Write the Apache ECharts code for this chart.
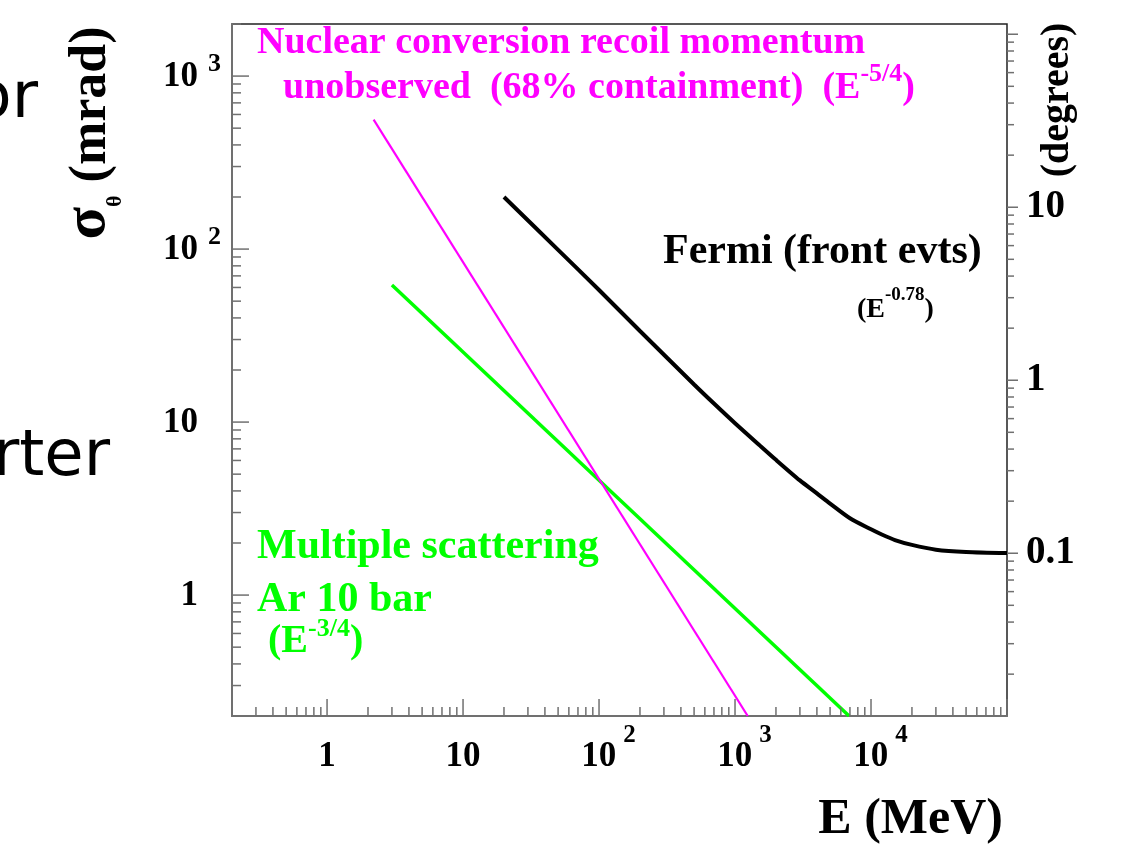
<!DOCTYPE html>
<html><head><meta charset="utf-8">
<script src="https://cdn.jsdelivr.net/npm/echarts@6/dist/echarts.min.js"></script>
<style>html,body{margin:0;padding:0;background:#fff}#c{width:1124px;height:855px}</style>
</head><body><div id="c"></div>
<script>
// ---------------- data ----------------
const fermiE     = [20, 50, 100, 200, 500, 700, 1000, 1500, 2000, 3000, 4000, 5000, 7000, 10000, 12000, 15000, 20000, 30000, 50000, 100000];
const fermiSigma = [200, 99, 58, 33.6, 16.5, 12.8, 9.85, 7.4, 6.05, 4.6, 3.87, 3.38, 2.78, 2.4, 2.24, 2.08, 1.95, 1.83, 1.775, 1.75];
const msE        = [3, 6900];
const msSigma    = [62, 0.2];
const nucE       = [2.2, 1240];
const nucSigma   = [560, 0.2];

// axis ranges and tick labels
const xRange = [0.2, 1e5];
const yRange = [0.2, 2000];
const MRAD_TO_DEG = 180 / Math.PI / 1000;
const xTickLabels   = {0: ['1', ''], 1: ['10', ''], 2: ['10', '2'], 3: ['10', '3'], 4: ['10', '4']};
const yTickLabels   = {0: ['1', ''], 1: ['10', ''], 2: ['10', '2'], 3: ['10', '3']};
const degTickLabels = {'-1': '0.1', '0': '1', '1': '10'};

// ---------------- helpers ----------------
const SERIF = '"Liberation Serif", "Times New Roman", serif';
const zip = (a, b) => a.map((v, i) => [v, b[i]]);
function expOf(v) { const e = Math.log10(v); const r = Math.round(e); return Math.abs(e - r) < 1e-6 ? r : null; }
function logTicks(min, max) {
  const out = [];
  for (let n = Math.floor(Math.log10(min)) - 1; n <= Math.ceil(Math.log10(max)); n++) {
    for (let k = 1; k <= 9; k++) {
      const v = k * Math.pow(10, n);
      if (v >= min * 0.9999 && v <= max * 1.0001) out.push({v: v, major: k === 1});
    }
  }
  return out;
}
const degRange = [yRange[0] * MRAD_TO_DEG, yRange[1] * MRAD_TO_DEG];
const xTicks = logTicks(xRange[0], xRange[1]);
const yTicks = logTicks(yRange[0], yRange[1]);
const dTicks = logTicks(degRange[0], degRange[1]);

function tickSeries(ticks, side, yAxisIndex, majorLen, minorLen) {
  return {
    type: 'custom', xAxisIndex: 0, yAxisIndex: yAxisIndex, silent: true, clip: false, z: 5,
    data: ticks.map(t => side === 'bottom' ? [t.v, yRange[0]] : side === 'left' ? [xRange[0], t.v] : [xRange[1], t.v]),
    renderItem: function (params, api) {
      const t = ticks[params.dataIndex];
      const p = api.coord([api.value(0), api.value(1)]);
      const len = t.major ? majorLen : minorLen;
      let shape;
      if (side === 'bottom') shape = {x1: p[0], y1: p[1], x2: p[0], y2: p[1] - len};
      else shape = {x1: p[0], y1: p[1], x2: p[0] + len, y2: p[1]};
      return {type: 'line', shape: shape, style: {stroke: '#707070', lineWidth: 1.5}};
    }
  };
}

const lblBase = {fontFamily: SERIF, fontWeight: 'bold', color: '#000'};
const xRich = {
  e: {width: 19, lineHeight: 51},
  b: Object.assign({fontSize: 35, lineHeight: 51, verticalAlign: 'bottom'}, lblBase),
  s: Object.assign({fontSize: 25, lineHeight: 51, verticalAlign: 'top', padding: [0, 0, 0, 7]}, lblBase)
};
const yRich = {
  e: {width: 23, lineHeight: 49},
  b: Object.assign({fontSize: 35, lineHeight: 49, verticalAlign: 'bottom', padding: [0, 0, 6, 0]}, lblBase),
  s: Object.assign({fontSize: 26, lineHeight: 49, verticalAlign: 'top', padding: [0, 0, 0, 10]}, lblBase)
};

function supText(x, y, parts, color, fs, sfs, H) {
  const txt = parts.map(p => p[1] ? '{p|' + p[0] + '}' : '{m|' + p[0] + '}').join('');
  return {
    type: 'text', x: x, y: y, silent: true,
    style: {
      text: txt, fill: color, align: 'left', verticalAlign: 'top', textAlign: 'left', textVerticalAlign: 'top',
      rich: {
        m: {font: 'bold ' + fs + 'px ' + SERIF, fill: color, lineHeight: H, verticalAlign: 'bottom'},
        p: {font: 'bold ' + sfs + 'px ' + SERIF, fill: color, lineHeight: H, verticalAlign: 'top'}
      }
    }
  };
}
function plainText(x, y, text, color, font, align, rotation) {
  return {
    type: 'text', x: x, y: y, rotation: rotation || 0, silent: true,
    style: {text: text, fill: color, font: font, align: align || 'left', verticalAlign: 'middle',
            textAlign: align || 'left', textVerticalAlign: 'middle'}
  };
}

const chart = echarts.init(document.getElementById('c'), null, {renderer: 'canvas'});
chart.setOption({
  animation: false,
  backgroundColor: '#fff',
  grid: {left: 232, right: 117, top: 24, bottom: 139, show: true, borderColor: '#222', borderWidth: 1.5, backgroundColor: 'transparent'},
  xAxis: {
    type: 'log', logBase: 10, min: xRange[0], max: xRange[1],
    axisLine: {show: true, lineStyle: {color: '#707070', width: 2}},
    axisTick: {show: false}, splitLine: {show: false}, minorTick: {show: false},
    axisLabel: {
      margin: 7, color: '#000', rich: xRich,
      formatter: function (v) {
        const e = expOf(v); const l = e === null ? null : xTickLabels[e];
        if (!l) return '';
        return '{e| }{b|' + l[0] + '}' + (l[1] ? '{s|' + l[1] + '}' : '{e| }');
      }
    }
  },
  yAxis: [{
    type: 'log', logBase: 10, min: yRange[0], max: yRange[1], position: 'left',
    axisLine: {show: true, lineStyle: {color: '#707070', width: 2}},
    axisTick: {show: false}, splitLine: {show: false},
    axisLabel: {
      margin: 11, color: '#000', rich: yRich,
      formatter: function (v) {
        const e = expOf(v); const l = e === null ? null : yTickLabels[e];
        if (!l) return '';
        return '{b|' + l[0] + '}' + (l[1] ? '{s|' + l[1] + '}' : '{e| }');
      }
    }
  }, {
    type: 'log', logBase: 10, min: degRange[0], max: degRange[1], position: 'right',
    axisLine: {show: false}, axisTick: {show: false}, splitLine: {show: false},
    axisLabel: {
      margin: 19, color: '#000', fontFamily: SERIF, fontWeight: 'bold', fontSize: 39, padding: [0, 0, 6, 0],
      formatter: function (v) { const e = expOf(v); return e === null ? '' : (degTickLabels[String(e)] || ''); }
    }
  }],
  series: [
    {type: 'line', name: 'Fermi (front evts)', data: zip(fermiE, fermiSigma), showSymbol: false, smooth: 0.25,
     lineStyle: {color: '#000', width: 4}, z: 3},
    {type: 'line', name: 'Multiple scattering Ar 10 bar', data: zip(msE, msSigma), showSymbol: false,
     lineStyle: {color: '#00ff00', width: 3.5}, z: 3},
    {type: 'line', name: 'Nuclear conversion recoil momentum', data: zip(nucE, nucSigma), showSymbol: false,
     lineStyle: {color: '#ff00ff', width: 2.2}, z: 4},
    tickSeries(xTicks, 'bottom', 0, 17, 9),
    tickSeries(yTicks, 'left', 0, 17, 9),
    tickSeries(dTicks, 'right', 1, 11, 7)
  ],
  graphic: [
    plainText(257, 43, 'Nuclear conversion recoil momentum', '#ff00ff', 'bold 38px ' + SERIF),
    supText(283, 61, [['unobserved  (68% containment)  (E', false], ['-5/4', true], [')', false]], '#ff00ff', 38, 26, 46.5),
    plainText(663, 252, 'Fermi (front evts)', '#000', 'bold 42px ' + SERIF),
    supText(857, 286, [['(E', false], ['-0.78', true], [')', false]], '#000', 28, 19, 38),
    plainText(257, 547, 'Multiple scattering', '#00ff00', 'bold 42px ' + SERIF),
    plainText(257, 600, 'Ar 10 bar', '#00ff00', 'bold 42px ' + SERIF),
    supText(268, 616, [['(E', false], ['-3/4', true], [')', false]], '#00ff00', 40, 26, 46),
    plainText(1003, 820.5, 'E (MeV)', '#000', 'bold 50px ' + SERIF, 'right'),
    {
      type: 'text', x: 91, y: 133, rotation: Math.PI / 2, silent: true,
      style: {
        text: '{g|σ}{t|θ}{a| (mrad)}', fill: '#000', align: 'center', verticalAlign: 'middle',
        textAlign: 'center', textVerticalAlign: 'middle',
        rich: {
          g: {font: 'bold 60px ' + SERIF, fill: '#000', lineHeight: 70, verticalAlign: 'bottom', padding: [0, 0, 8, 0]},
          a: {font: 'bold 52px ' + SERIF, fill: '#000', lineHeight: 70, verticalAlign: 'bottom', padding: [0, 0, 8, 0]},
          t: {font: 'bold 22px ' + SERIF, fill: '#000', lineHeight: 70, verticalAlign: 'bottom'}
        }
      }
    },
    plainText(1058, 100, '(degrees)', '#000', 'bold 40px ' + SERIF, 'center', Math.PI / 2),
    plainText(38, 100, 'or', '#000', '64px "DejaVu Sans"', 'right'),
    plainText(110, 458, 'rter', '#000', '64px "DejaVu Sans"', 'right')
  ]
});
</script>
</body></html>
